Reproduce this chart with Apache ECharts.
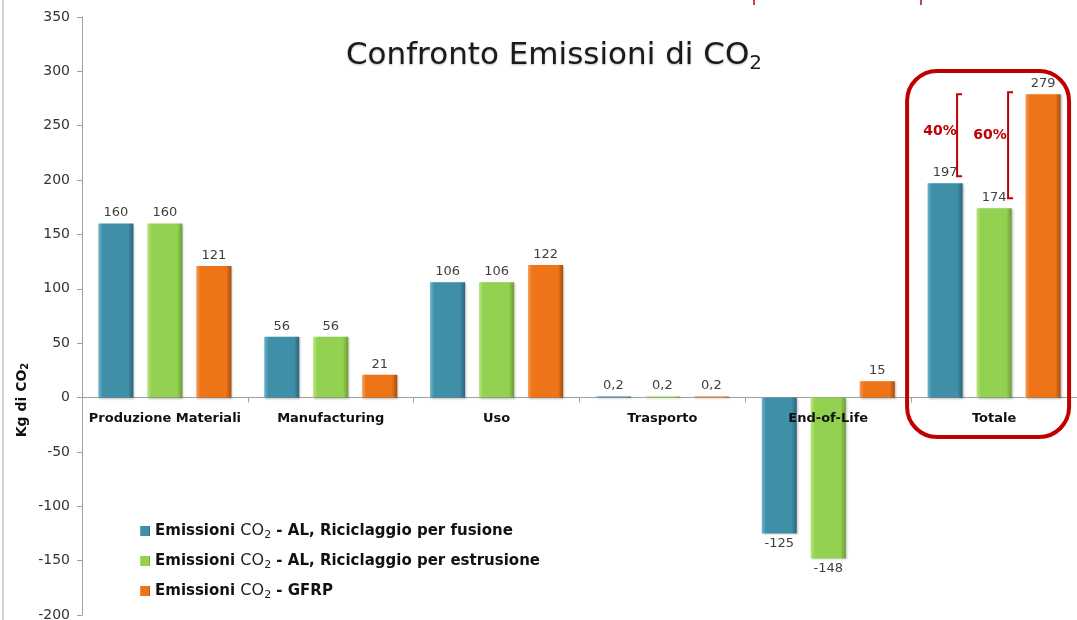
<!DOCTYPE html>
<html>
<head>
<meta charset="utf-8">
<script src="https://cdn.jsdelivr.net/npm/echarts@6/dist/echarts.min.js"></script>
<style>
  html, body { margin: 0; padding: 0; background: #fff; }
  #chart { width: 1077px; height: 620px; }
</style>
</head>
<body>
<div id="chart"></div>
<script>
const categorie = ['Produzione Materiali', 'Manufacturing', 'Uso', 'Trasporto', 'End-of-Life', 'Totale'];
const alFusione = [160, 56, 106, 0.2, -125, 197];
const alEstrusione = [160, 56, 106, 0.2, -148, 174];
const gfrp = [121, 21, 122, 0.2, 15, 279];
const nomiSerie = ['AL, Riciclaggio per fusione', 'AL, Riciclaggio per estrusione', 'GFRP'];
const percentuali = ['40%', '60%'];

const FONT = 'DejaVu Sans';
const chart = echarts.init(document.getElementById('chart'));

function barColor(light, base, dark) {
    return new echarts.graphic.LinearGradient(0, 0, 1, 0, [
        { offset: 0, color: light },
        { offset: 0.12, color: base },
        { offset: 0.85, color: base },
        { offset: 1, color: dark }
    ]);
}

function dati(valori) {
    return valori.map(v => ({
        value: v,
        label: { position: v < 0 ? 'bottom' : 'top' }
    }));
}

function serie(nome, valori, colore) {
    return {
        name: nome,
        type: 'bar',
        barWidth: 35,
        barGap: '40%',
        barMinHeight: 1,
        data: dati(valori),
        itemStyle: { color: colore, shadowColor: 'rgba(0,0,0,0.25)', shadowBlur: 2, shadowOffsetX: 1, shadowOffsetY: 1 },
        label: {
            show: true,
            distance: 4,
            fontFamily: FONT,
            fontSize: 13,
            color: '#404040',
            formatter: p => String(p.value).replace('.', ',')
        }
    };
}

const subRich = {
    b: { fontFamily: FONT, fontWeight: 'bold', fontSize: 15, color: '#111', lineHeight: 20 },
    c: { fontFamily: FONT, fontSize: 16, color: '#222', lineHeight: 20 },
    s: { fontFamily: FONT, fontSize: 11, color: '#222', verticalAlign: 'bottom', padding: [8, 0, 0, 0], lineHeight: 20 }
};

chart.setOption({
    animation: false,
    title: {
        text: '{a|Confronto Emissioni di CO}{s|2}',
        left: 549,
        textAlign: 'center',
        top: 32,
        textStyle: {
            rich: {
                a: { fontFamily: FONT, fontWeight: 'normal', fontSize: 31, color: '#1a1a1a', textShadowColor: 'rgba(0,0,0,0.25)', textShadowBlur: 2, textShadowOffsetY: 1 },
                s: { fontFamily: FONT, fontWeight: 'normal', fontSize: 20, color: '#1a1a1a', padding: [17, 0, 0, 0] }
            }
        }
    },
    legend: {
        orient: 'vertical',
        left: 135,
        top: 517,
        itemWidth: 10,
        itemHeight: 10,
        itemGap: 11,
        icon: 'rect',
        data: ['fusione', 'estrusione', 'gfrp'],
        formatter: n => {
            const i = { fusione: 0, estrusione: 1, gfrp: 2 }[n];
            return '{b|Emissioni }{c|CO}{s|2}{b| - ' + nomiSerie[i] + '}';
        },
        textStyle: { rich: subRich }
    },
    grid: { left: 82, right: 0, top: 17, bottom: 5, containLabel: false, outerBoundsMode: 'none' },
    xAxis: {
        type: 'category',
        data: categorie,
        axisLine: { onZero: true, lineStyle: { color: '#a0a0a0' } },
        axisTick: { show: true, length: 5, lineStyle: { color: '#a0a0a0' } },
        axisLabel: { show: false }
    },
    yAxis: {
        type: 'value',
        min: -200,
        max: 350,
        interval: 50,
        splitLine: { show: false },
        axisLine: { show: true, lineStyle: { color: '#a0a0a0' } },
        axisTick: { show: true, length: 5, lineStyle: { color: '#a0a0a0' } },
        axisLabel: { margin: 12, fontFamily: FONT, fontSize: 14, color: '#333' }
    },
    series: [
        serie('fusione', alFusione, barColor('#6fb6cc', '#3f8fa9', '#2a6478')),
        serie('estrusione', alEstrusione, barColor('#b8e680', '#93d150', '#6b9c35')),
        serie('gfrp', gfrp, barColor('#f59a52', '#ee7417', '#a54d0c'))
    ]
});

// etichette delle categorie appena sotto lo zero, sopra le barre
const yPix = v => chart.convertToPixel({ yAxisIndex: 0 }, v);
const y0 = yPix(0);
const etichette = categorie.map(c => ({
    type: 'text',
    x: chart.convertToPixel({ xAxisIndex: 0 }, c),
    y: y0 + 21,
    z: 30,
    style: { text: c, fill: '#111', font: 'bold 13px "DejaVu Sans"', align: 'center', verticalAlign: 'middle' }
}));

// annotazioni: riquadro rosso sul totale e parentesi percentuali
const xTot = chart.convertToPixel({ xAxisIndex: 0 }, 'Totale');
const top279 = yPix(gfrp[5]);
const red = '#c00000';

function parentesi(x, y1, y2) {
    return {
        type: 'polyline',
        shape: { points: [[x + 5, y1], [x, y1], [x, y2], [x + 5, y2]] },
        style: { stroke: red, lineWidth: 2, fill: null }
    };
}

chart.setOption({
    graphic: etichette.concat([
        { type: 'line', shape: { x1: 3, y1: 0, x2: 3, y2: 620 }, style: { stroke: '#c8c8c8', lineWidth: 1.5 } },
        { type: 'line', shape: { x1: 754, y1: 0, x2: 754, y2: 5 }, style: { stroke: red, lineWidth: 1.5 } },
        { type: 'line', shape: { x1: 921, y1: 0, x2: 921, y2: 5 }, style: { stroke: red, lineWidth: 1.5 } },
        {
            type: 'rect',
            shape: { x: xTot - 87, y: 71, width: 162, height: 366, r: 30 },
            style: { stroke: red, lineWidth: 4, fill: null },
            z: 20
        },
        parentesi(xTot - 37, top279, yPix(alFusione[5]) - 7),
        parentesi(xTot + 14, top279 - 2, yPix(alEstrusione[5]) - 10),
        {
            type: 'text', x: xTot - 54, y: yPix(245), z: 20,
            style: { text: percentuali[0], fill: red, font: 'bold 14px "DejaVu Sans"', align: 'center', verticalAlign: 'middle' }
        },
        {
            type: 'text', x: xTot - 4, y: yPix(241), z: 20,
            style: { text: percentuali[1], fill: red, font: 'bold 14px "DejaVu Sans"', align: 'center', verticalAlign: 'middle' }
        },
        {
            type: 'text', x: 22, y: 400, rotation: Math.PI / 2, z: 20,
            style: {
                text: '{b|Kg di CO}{s|2}',
                align: 'center', verticalAlign: 'middle',
                rich: {
                    b: { fontFamily: FONT, fontWeight: 'bold', fontSize: 14, fill: '#111' },
                    s: { fontFamily: FONT, fontWeight: 'bold', fontSize: 10, fill: '#111', padding: [7, 0, 0, 0] }
                }
            }
        }
    ])
});
</script>
</body>
</html>
